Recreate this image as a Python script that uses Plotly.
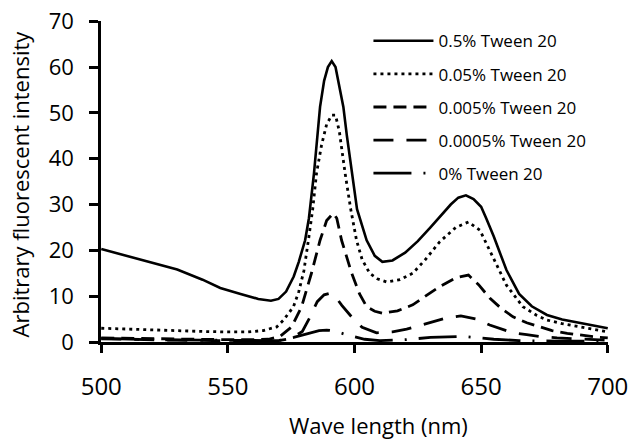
import plotly.graph_objects as go

# ---- data ----
series_names = ["0.5% Tween 20", "0.05% Tween 20", "0.005% Tween 20", "0.0005% Tween 20", "0% Tween 20"]

wl_a = [500, 510, 520, 530, 540, 547, 555, 562, 567, 570, 573, 576, 578, 580.5, 582, 584, 586.4, 588, 589.5, 591,
        592.5, 594, 595.6, 597, 598.9, 601, 604.8, 608, 611, 615, 620, 625, 630, 634, 638, 641, 644, 647, 650, 652,
        655, 660, 665, 670, 676, 682, 689, 695, 700]
int_a = [20.3, 18.8, 17.4, 15.8, 13.6, 11.8, 10.5, 9.4, 9.0, 9.4, 11.0, 14.3, 17.5, 22.2, 27.0, 36.8, 51.3, 57.0, 60.0, 61.3,
         60.0, 56.0, 51.3, 45.0, 36.8, 29.0, 22.2, 18.8, 17.5, 17.8, 19.5, 22.0, 25.0, 27.5, 30.0, 31.5, 32.0, 31.2, 29.5, 27.0,
         23.0, 15.7, 10.5, 7.8, 5.9, 4.9, 4.1, 3.5, 3.0]

wl_b = [500, 510, 520, 530, 540, 550, 558, 564, 569.3, 572, 575.9, 578, 580, 581.8, 583.5, 585, 587, 589, 591, 592.5,
        594, 596.3, 598.5, 600.8, 603, 606, 609, 612.7, 618, 623, 628, 633.7, 640, 645, 649.5, 654.6, 660, 666.5,
        672, 676, 682, 689, 695, 700]
int_b = [3.0, 2.8, 2.6, 2.4, 2.3, 2.2, 2.2, 2.5, 3.3, 4.8, 7.7, 11.0, 15.5, 22.2, 29.0, 36.8, 43.0, 47.5, 49.5, 49.5,
         46.0, 36.8, 29.0, 22.2, 18.0, 15.0, 13.8, 13.1, 13.6, 15.0, 18.0, 21.9, 25.0, 26.2, 24.4, 18.6, 12.4, 7.7,
         5.8, 4.8, 4.0, 3.3, 2.7, 2.2]

wl_c = [500, 510, 520, 530, 540, 550, 560, 566, 570.6, 575.2, 579.1, 583, 586.4, 589, 591.6, 593, 594.9, 596.8, 598.9,
        602, 604.8, 608, 611, 617, 623, 628, 633.7, 640, 645, 649, 653.4, 658, 662.6, 668, 673, 678, 684, 690, 695, 700]
int_c = [0.9, 0.8, 0.7, 0.6, 0.5, 0.5, 0.5, 0.6, 1.2, 3.3, 7.7, 15.0, 22.2, 26.5, 28.1, 27.0, 22.2, 18.5, 15.0,
         10.5, 7.7, 6.7, 6.3, 6.8, 8.1, 10.0, 12.1, 14.0, 14.6, 12.5, 9.6, 7.3, 5.5, 4.2, 3.3, 2.5, 1.9, 1.4, 1.1, 0.9]

wl_d = [500, 515, 530, 545, 560, 570, 575, 579.4, 582, 585.3, 588, 590, 592.3, 595, 599.3, 603, 608.7, 615, 620.6,
        626, 631, 636, 642, 648, 653.4, 658, 662.6, 668, 673, 680, 690, 700]
int_d = [0.7, 0.5, 0.4, 0.3, 0.2, 0.3, 0.8, 2.3, 5.0, 8.8, 10.3, 10.6, 10.0, 8.0, 5.2, 3.2, 2.0, 2.2, 2.8,
         3.6, 4.4, 5.2, 5.7, 5.0, 3.7, 2.8, 2.0, 1.6, 1.2, 0.9, 0.6, 0.4]

wl_e = [500, 520, 540, 560, 570, 576, 582, 586, 589, 592, 598, 604, 610, 620, 630, 643, 655, 665, 680, 700]
int_e = [0.8, 0.5, 0.4, 0.3, 0.3, 1.0, 2.0, 2.5, 2.6, 2.4, 1.4, 0.6, 0.3, 0.5, 1.0, 1.2, 0.6, 0.3, 0.2, 0.2]

x_ticks = [500, 550, 600, 650, 700]
y_ticks = [0, 10, 20, 30, 40, 50, 60, 70]

x_title = "Wave length (nm)"
y_title = "Arbitrary fluorescent intensity"

# ---- figure ----
FONT = "Open Sans"
xs = [wl_a, wl_b, wl_c, wl_d, wl_e]
ys = [int_a, int_b, int_c, int_d, int_e]
dashes = ["solid", "3px,4px", "13px,7px", "20px,13px", "38px,12px,2px,12px"]
widths = [2.6, 2.8, 2.8, 2.8, 2.8]

fig = go.Figure()
for i, name in enumerate(series_names):
    fig.add_trace(go.Scatter(
        x=xs[i], y=ys[i], mode="lines", name=name,
        line=dict(color="black", width=widths[i], dash=dashes[i]),
        legendgroup=f"g{i}",
    ))

fig.update_layout(
    width=633, height=439,
    margin=dict(l=101, r=25, t=21, b=97, autoexpand=False),
    paper_bgcolor="white", plot_bgcolor="white",
    font=dict(family=FONT, color="black"),
    showlegend=True,
    legend=dict(
        x=0.5275, y=0.993, xanchor="left", yanchor="top",
        font=dict(family=FONT, size=17, color="black"),
        bgcolor="rgba(0,0,0,0)", itemwidth=60,
        tracegroupgap=8, traceorder="grouped",
    ),
    xaxis=dict(
        range=[499.9, 700.1], tickvals=x_ticks, ticktext=[str(v) for v in x_ticks],
        showline=True, linecolor="black", linewidth=2.5,
        ticks="outside", ticklen=8, tickwidth=2.5, tickcolor="black",
        tickfont=dict(family=FONT, size=24, color="black"),
        ticklabelstandoff=13, automargin=False, ticklabeloverflow="allow",
        showgrid=False, zeroline=False,
    ),
    yaxis=dict(
        range=[0, 70.05], tickvals=y_ticks,
        showline=True, linecolor="black", linewidth=2.5,
        ticks="outside", ticklen=9, tickwidth=2.5, tickcolor="black",
        tickfont=dict(family=FONT, size=22, color="black"),
        ticklabelstandoff=11, automargin=False, ticklabeloverflow="allow",
        showgrid=False, zeroline=False,
    ),
    annotations=[
        dict(text=x_title, xref="paper", yref="paper", x=0.548, y=-0.2586,
             xanchor="center", yanchor="middle", showarrow=False,
             font=dict(family=FONT, size=22, color="black")),
        dict(text=y_title, xref="paper", yref="paper", x=-0.159, y=0.492,
             xanchor="center", yanchor="middle", showarrow=False, textangle=-90,
             font=dict(family=FONT, size=22, color="black")),
    ],
)

# remove the page's default body margin so the 633x439 figure fills the window exactly
fig.write_html("out.html",
               config={"displayModeBar": False},
               post_script="document.body.style.margin='0';document.body.style.overflow='hidden';")
